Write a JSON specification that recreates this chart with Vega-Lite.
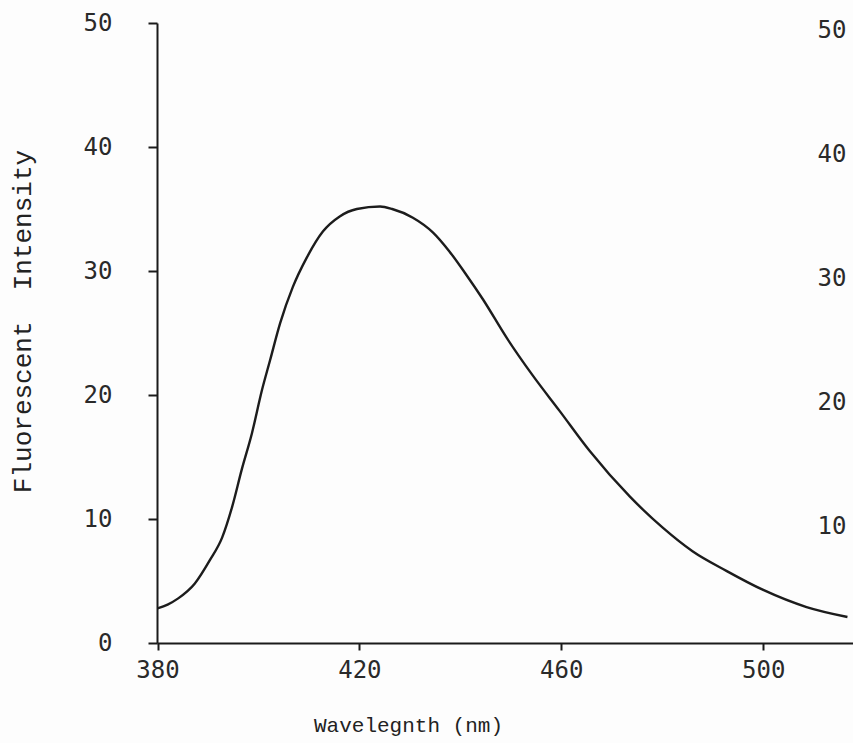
{
  "$schema": "https://vega.github.io/schema/vega-lite/v6.json",
  "width": 696,
  "height": 620,
  "autosize": {"type": "none"},
  "padding": {"left": 157, "top": 23, "right": 0, "bottom": 100},
  "background": "#fdfdfd",
  "config": {
    "view": {"stroke": null},
    "axis": {
      "grid": false,
      "domainColor": "#1a1a1a",
      "domainWidth": 2,
      "tickColor": "#1a1a1a",
      "tickWidth": 2,
      "labelColor": "#2a2a2a",
      "titleColor": "#222222",
      "labelFont": "DejaVu Sans Mono",
      "titleFont": "Liberation Mono",
      "titleFontWeight": "normal"
    },
    "axisX": {"titleFontSize": 21, "labelFontSize": 24},
    "axisY": {"titleFontSize": 26, "labelFontSize": 24}
  },
  "data": {
    "values": [
      {"wavelength": 380.0, "intensity": 2.8},
      {"wavelength": 382.0, "intensity": 3.1},
      {"wavelength": 384.1, "intensity": 3.6},
      {"wavelength": 387.4, "intensity": 4.8},
      {"wavelength": 390.4, "intensity": 6.7},
      {"wavelength": 392.8, "intensity": 8.5},
      {"wavelength": 394.8, "intensity": 11.0},
      {"wavelength": 396.7, "intensity": 14.0},
      {"wavelength": 398.7, "intensity": 16.9},
      {"wavelength": 400.7, "intensity": 20.4},
      {"wavelength": 402.3, "intensity": 22.8},
      {"wavelength": 404.3, "intensity": 25.8},
      {"wavelength": 406.8, "intensity": 28.7},
      {"wavelength": 409.6, "intensity": 31.1},
      {"wavelength": 412.8, "intensity": 33.2},
      {"wavelength": 416.1, "intensity": 34.4},
      {"wavelength": 419.5, "intensity": 35.0},
      {"wavelength": 424.1, "intensity": 35.2},
      {"wavelength": 426.5, "intensity": 35.0},
      {"wavelength": 430.6, "intensity": 34.3},
      {"wavelength": 434.6, "intensity": 33.1},
      {"wavelength": 437.8, "intensity": 31.6},
      {"wavelength": 441.0, "intensity": 29.8},
      {"wavelength": 444.5, "intensity": 27.7},
      {"wavelength": 449.2, "intensity": 24.6},
      {"wavelength": 454.3, "intensity": 21.6},
      {"wavelength": 459.7, "intensity": 18.7},
      {"wavelength": 465.6, "intensity": 15.5},
      {"wavelength": 473.6, "intensity": 11.8},
      {"wavelength": 480.1, "intensity": 9.3},
      {"wavelength": 486.0, "intensity": 7.4},
      {"wavelength": 492.8, "intensity": 5.8},
      {"wavelength": 499.9, "intensity": 4.3},
      {"wavelength": 508.6, "intensity": 2.9},
      {"wavelength": 516.7, "intensity": 2.1}
    ]
  },
  "encoding": {
    "x": {
      "field": "wavelength",
      "type": "quantitative",
      "scale": {"domain": [379.9, 517.8], "nice": false, "zero": false},
      "axis": {
        "values": [380, 420, 460, 500],
        "tickSize": 7,
        "labelPadding": 8,
        "labelFlush": false,
        "title": "Wavelegnth (nm)",
        "titleX": 251,
        "titleY": 82,
        "titleBaseline": "middle",
        "titleAlign": "center"
      }
    }
  },
  "layer": [
    {
      "mark": {"type": "line", "color": "#1c1c1c", "strokeWidth": 2.4, "interpolate": "monotone"},
      "encoding": {
        "y": {
          "field": "intensity",
          "type": "quantitative",
          "scale": {"domain": [0, 50], "nice": false},
          "axis": {
            "values": [0, 10, 20, 30, 40, 50],
            "tickSize": 9,
            "labelPadding": 36,
            "title": "Fluorescent\u00a0\u00a0Intensity",
            "titleX": -135,
            "titleY": 298,
            "titleAngle": -90,
            "titleBaseline": "middle",
            "titleAlign": "center"
          }
        }
      }
    },
    {
      "mark": {"type": "line", "opacity": 0},
      "encoding": {
        "y": {
          "field": "intensity",
          "type": "quantitative",
          "scale": {"domain": [0, 50], "nice": false},
          "axis": {
            "orient": "right",
            "values": [10, 20, 30, 40, 50],
            "domain": false,
            "ticks": false,
            "labelPadding": 0,
            "offset": -36,
            "labelOffset": 7,
            "title": null
          }
        }
      }
    }
  ],
  "resolve": {"scale": {"y": "independent"}}
}
